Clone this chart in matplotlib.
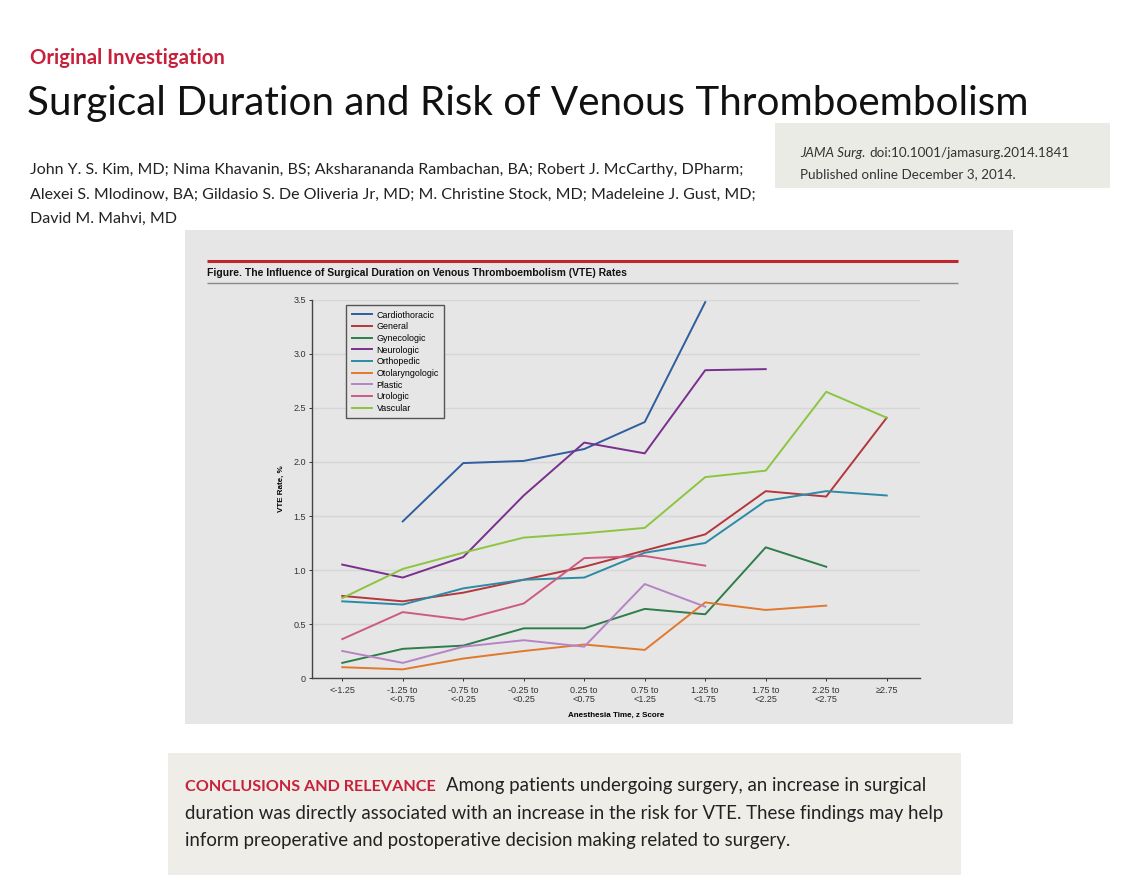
import numpy as np
import matplotlib
matplotlib.use('Agg')
import matplotlib.pyplot as plt
from matplotlib.patches import Rectangle

nan = np.nan

# Anesthesia time z-score categories
categories = ['<-1.25', '-1.25 to\n<-0.75', '-0.75 to\n<-0.25', '-0.25 to\n<0.25',
              '0.25 to\n<0.75', '0.75 to\n<1.25', '1.25 to\n<1.75', '1.75 to\n<2.25',
              '2.25 to\n<2.75', '\u22652.75']

# VTE rate (%) per specialty
cardiothoracic = [nan, 1.45, 1.99, 2.01, 2.12, 2.37, 3.48, nan, nan, nan]
general = [0.76, 0.71, 0.79, 0.91, 1.03, 1.18, 1.33, 1.73, 1.68, 2.41]
gynecologic = [0.14, 0.27, 0.30, 0.46, 0.46, 0.64, 0.59, 1.21, 1.03, nan]
neurologic = [1.05, 0.93, 1.12, 1.69, 2.18, 2.08, 2.85, 2.86, nan, nan]
orthopedic = [0.71, 0.68, 0.83, 0.91, 0.93, 1.16, 1.25, 1.64, 1.73, 1.69]
otolaryngologic = [0.10, 0.08, 0.18, 0.25, 0.31, 0.26, 0.70, 0.63, 0.67, nan]
plastic = [0.25, 0.14, 0.29, 0.35, 0.29, 0.87, 0.66, nan, nan, nan]
urologic = [0.36, 0.61, 0.54, 0.69, 1.11, 1.13, 1.04, nan, nan, nan]
vascular = [0.74, 1.01, 1.16, 1.30, 1.34, 1.39, 1.86, 1.92, 2.65, 2.41]

series = [
    ('Cardiothoracic', cardiothoracic, '#2f5d9e'),
    ('General', general, '#b3373b'),
    ('Gynecologic', gynecologic, '#2e7d4b'),
    ('Neurologic', neurologic, '#7a2f8f'),
    ('Orthopedic', orthopedic, '#2b8aa6'),
    ('Otolaryngologic', otolaryngologic, '#e2782c'),
    ('Plastic', plastic, '#b783c6'),
    ('Urologic', urologic, '#cc5a83'),
    ('Vascular', vascular, '#8cc540'),
]

W, H = 1144, 890
fig = plt.figure(figsize=(W / 100, H / 100), dpi=100)
fig.patch.set_facecolor('white')

# page layer in pixel coordinates
pg = fig.add_axes([0, 0, 1, 1])
pg.set_xlim(0, W)
pg.set_ylim(H, 0)
pg.axis('off')

head = ['Lato', 'DejaVu Sans']
narrow = ['Liberation Sans Narrow', 'Liberation Sans', 'DejaVu Sans']
red = '#c8203a'

pg.text(30, 64, 'Original Investigation', color=red, fontsize=14.6, fontweight='bold',
        family=head, va='baseline')
pg.text(27, 115, 'Surgical Duration and Risk of Venous Thromboembolism', color='#111111',
        fontsize=29.1, family=head, va='baseline')

# doi box
pg.add_patch(Rectangle((775, 123), 335, 65, facecolor='#ebebe6', edgecolor='none'))
t_jama = pg.text(800, 157, 'JAMA Surg.', fontsize=9.7, family=head, style='italic',
                 color='#333333', va='baseline')

authors = ['John Y. S. Kim, MD; Nima Khavanin, BS; Aksharananda Rambachan, BA; Robert J. McCarthy, DPharm;',
           'Alexei S. Mlodinow, BA; Gildasio S. De Oliveria Jr, MD; M. Christine Stock, MD; Madeleine J. Gust, MD;',
           'David M. Mahvi, MD']
for i, line in enumerate(authors):
    pg.text(30, 174 + i * 24.5, line, fontsize=11.5, family=head, color='#222222', va='baseline')

# figure panel
pg.add_patch(Rectangle((185, 230), 828, 494, facecolor='#e6e6e6', edgecolor='none'))
pg.plot([207, 958], [261, 261], color='#c0262e', lw=2.2, solid_capstyle='butt')
pg.plot([207, 958], [283, 283], color='#8a8a8a', lw=1.0, solid_capstyle='butt')
pg.text(207, 276, 'Figure. The Influence of Surgical Duration on Venous Thromboembolism (VTE) Rates',
        fontsize=7.5, fontweight='bold', family=narrow, color='#111111', va='baseline')

# conclusions box
pg.add_patch(Rectangle((168, 753), 793, 122, facecolor='#eeede8', edgecolor='none'))
t_red = pg.text(185, 791, 'CONCLUSIONS AND RELEVANCE', fontsize=11.6, fontweight='bold',
                family=head, color=red, va='baseline')
body = ['duration was directly associated with an increase in the risk for VTE. These findings may help',
        'inform preoperative and postoperative decision making related to surgery.']
for i, line in enumerate(body):
    pg.text(185, 819 + i * 27, line, fontsize=13.4, family=head, color='#222222', va='baseline')

# place text that follows a styled run
fig.canvas.draw()
px = matplotlib.transforms.blended_transform_factory(
    matplotlib.transforms.IdentityTransform(), pg.transData)
pg.text(t_red.get_window_extent().x1 + 10, 791,
        'Among patients undergoing surgery, an increase in surgical',
        fontsize=13.4, family=head, color='#222222', va='baseline', transform=px)
pg.text(t_jama.get_window_extent().x1 + 4, 157, 'doi:10.1001/jamasurg.2014.1841',
        fontsize=9.7, family=head, color='#333333', va='baseline', transform=px)
pg.text(800, 178, 'Published online December 3, 2014.', fontsize=9.7, family=head,
        color='#333333', va='baseline')

# chart axes
ax = fig.add_axes([312 / W, 1 - 678 / H, (920 - 312) / W, (678 - 300) / H])
ax.set_facecolor('#e6e6e6')
x = np.arange(len(categories))
for name, vals, col in series:
    ax.plot(x, vals, color=col, lw=1.4, label=name)

ax.set_xlim(-0.5, 9.55)
ax.set_ylim(0, 3.5)
ax.set_yticks([0, 0.5, 1.0, 1.5, 2.0, 2.5, 3.0, 3.5])
ax.set_yticklabels(['0', '0.5', '1.0', '1.5', '2.0', '2.5', '3.0', '3.5'])
ax.set_xticks(x)
ax.set_xticklabels(categories, linespacing=1.0)
ax.yaxis.grid(True, color='#d6d6d6', lw=1.0)
ax.set_axisbelow(True)
for s in ['top', 'right']:
    ax.spines[s].set_visible(False)
for s in ['left', 'bottom']:
    ax.spines[s].set_color('#444444')
    ax.spines[s].set_linewidth(1.0)
ax.tick_params(axis='both', labelsize=6.5, colors='#333333', length=2.5, width=0.7, pad=2)
ax.tick_params(axis='x', pad=3)
for lab in ax.get_xticklabels() + ax.get_yticklabels():
    lab.set_family(narrow)
ax.set_ylabel('VTE Rate, %', fontsize=5.8, family=narrow, fontweight='bold', labelpad=6)
ax.set_xlabel('Anesthesia Time, z Score', fontsize=5.8, family=narrow, fontweight='bold',
              labelpad=6)

leg = ax.legend(loc='upper left', bbox_to_anchor=(0.049, 0.998),
                prop={'family': narrow, 'size': 6.4}, frameon=True, fancybox=False,
                handlelength=2.3, handletextpad=0.5, labelspacing=0.3, borderpad=0.6)
leg.get_frame().set_edgecolor('#555555')
leg.get_frame().set_facecolor('#e6e6e6')
leg.get_frame().set_linewidth(1.0)
leg.get_frame().set_alpha(1)

fig.savefig('out.png', dpi=100, facecolor='white')
